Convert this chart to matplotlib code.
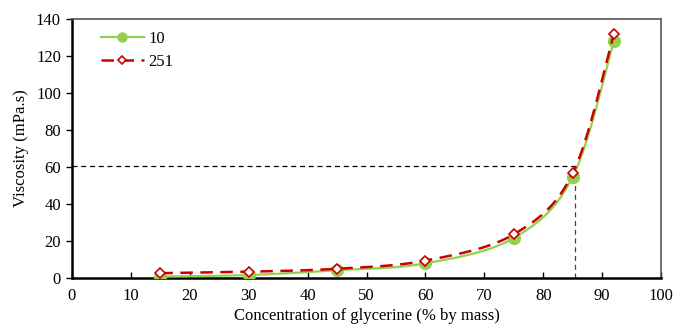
import numpy as np
import matplotlib
matplotlib.use("Agg")
import matplotlib.pyplot as plt

# Glycerine-water viscosity at two shear rates
concentration = [15, 30, 45, 60, 75, 85, 92]
visc_10 = [0.8, 1.6, 4.2, 7.9, 21.6, 54.6, 128.0]
visc_251 = [2.6, 3.4, 5.0, 9.4, 23.6, 56.5, 132.0]
series_labels = ["10", "251"]
ref_x = 85.4
ref_y = 60.5

xticks = list(range(0, 101, 10))
yticks = list(range(0, 141, 20))


def smooth_curve(x, y, n=40, tension=0.5):
    """Cardinal spline through the points (Excel-like smoothed line)."""
    x = np.asarray(x, float)
    y = np.asarray(y, float)
    px = np.concatenate([[x[0]], x, [x[-1]]])
    py = np.concatenate([[y[0]], y, [y[-1]]])
    xs, ys = [], []
    t = np.linspace(0, 1, n)
    for i in range(1, len(px) - 2):
        p0, p1, p2, p3 = (np.array([px[j], py[j]]) for j in range(i - 1, i + 3))
        m1 = tension * (p2 - p0)
        m2 = tension * (p3 - p1)
        h00 = 2 * t**3 - 3 * t**2 + 1
        h10 = t**3 - 2 * t**2 + t
        h01 = -2 * t**3 + 3 * t**2
        h11 = t**3 - t**2
        pts = (np.outer(h00, p1) + np.outer(h10, m1) +
               np.outer(h01, p2) + np.outer(h11, m2))
        xs.append(pts[:, 0])
        ys.append(pts[:, 1])
    return np.concatenate(xs), np.concatenate(ys)


plt.rcParams["font.family"] = ["Liberation Serif", "DejaVu Serif"]
plt.rcParams["font.size"] = 12

fig = plt.figure(figsize=(6.75, 3.31), dpi=100)
ax = fig.add_axes([72 / 675, 1 - 278 / 331, (661 - 72) / 675, (278 - 19) / 331])

green = "#92D050"
red = "#CC0000"

sx, sy = smooth_curve(concentration, visc_10)
ax.plot(sx, sy, color=green, lw=1.6, zorder=3)
ax.plot(concentration, visc_10, linestyle="none", marker="o", ms=8.5,
        color=green, zorder=4)
ax.plot([], [], color=green, lw=1.6, marker="o", ms=6.5, label=series_labels[0])

sx, sy = smooth_curve(concentration, visc_251)
ax.plot(sx, sy, color=red, lw=1.8, dashes=(5, 3), zorder=5)
ax.plot(concentration, visc_251, linestyle="none", marker="D", ms=5.5,
        mfc="white", mec=red, mew=1.2, zorder=6)
ax.plot([], [], color=red, lw=1.8, dashes=(5, 3), marker="D", ms=4.5,
        mfc="white", mec=red, mew=1.2, label=series_labels[1])

# Reference lines
ax.plot([0, ref_x], [ref_y, ref_y], color="black", lw=0.9, dashes=(4, 3), zorder=2)
ax.plot([ref_x, ref_x], [0, ref_y], color="#444444", lw=0.9, dashes=(4, 3), zorder=2)

ax.set_xlim(0, 100)
ax.set_ylim(0, 140)
ax.set_xticks(xticks)
ax.set_yticks(yticks)
ax.tick_params(axis="x", direction="in", length=4, width=1, pad=7)
ax.tick_params(axis="y", direction="out", length=4, width=1, pad=4)

for side in ("left", "bottom"):
    ax.spines[side].set_linewidth(1.8)
    ax.spines[side].set_color("black")
for side in ("top", "right"):
    ax.spines[side].set_linewidth(1.2)
    ax.spines[side].set_color("#555555")

ax.set_xlabel("Concentration of glycerine (% by mass)", labelpad=3)
ax.set_ylabel("Viscosity (mPa.s)", labelpad=5)

ax.legend(loc="upper left", frameon=False, bbox_to_anchor=(0.023, 1.013),
          handlelength=2.6, handletextpad=0.25, labelspacing=0.45)

fig.savefig("out.png", dpi=100)
